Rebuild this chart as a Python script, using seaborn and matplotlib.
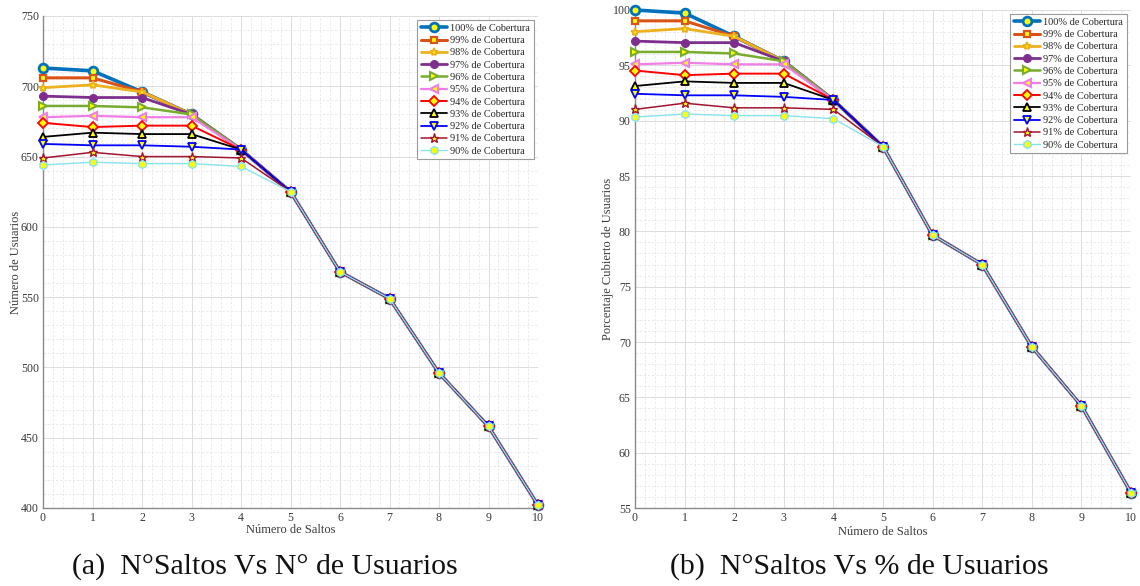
import matplotlib
matplotlib.use("Agg")
import matplotlib.pyplot as plt
import seaborn as sns
from matplotlib.ticker import MultipleLocator

sns.set_theme(style="white")
plt.rcParams['font.family'] = ['Liberation Serif', 'DejaVu Serif']

# ---------------- data ----------------
saltos = [0, 1, 2, 3, 4, 5, 6, 7, 8, 9, 10]
labels = ["100% de Cobertura", "99% de Cobertura", "98% de Cobertura", "97% de Cobertura",
          "96% de Cobertura", "95% de Cobertura", "94% de Cobertura", "93% de Cobertura",
          "92% de Cobertura", "91% de Cobertura", "90% de Cobertura"]

usuarios_100 = [713, 711, 696, 680, 655, 625, 568, 549, 496, 458, 402]
usuarios_99 = [706, 706, 696, 680, 655, 625, 568, 549, 496, 458, 402]
usuarios_98 = [699, 701, 696, 680, 655, 625, 568, 549, 496, 458, 402]
usuarios_97 = [693, 692, 692, 680, 655, 625, 568, 549, 496, 458, 402]
usuarios_96 = [686, 686, 685, 680, 655, 625, 568, 549, 496, 458, 402]
usuarios_95 = [678, 679, 678, 678, 655, 625, 568, 549, 496, 458, 402]
usuarios_94 = [674, 671, 672, 672, 655, 625, 568, 549, 496, 458, 402]
usuarios_93 = [664, 667, 666, 666, 655, 625, 568, 549, 496, 458, 402]
usuarios_92 = [659, 658, 658, 657, 655, 625, 568, 549, 496, 458, 402]
usuarios_91 = [649, 653, 650, 650, 649, 625, 568, 549, 496, 458, 402]
usuarios_90 = [644, 646, 645, 645, 643, 625, 568, 549, 496, 458, 402]

pct_100 = [100.00, 99.72, 97.62, 95.37, 91.87, 87.66, 79.66, 77.00, 69.57, 64.24, 56.38]
pct_99 = [99.02, 99.02, 97.62, 95.37, 91.87, 87.66, 79.66, 77.00, 69.57, 64.24, 56.38]
pct_98 = [98.04, 98.32, 97.62, 95.37, 91.87, 87.66, 79.66, 77.00, 69.57, 64.24, 56.38]
pct_97 = [97.19, 97.05, 97.05, 95.37, 91.87, 87.66, 79.66, 77.00, 69.57, 64.24, 56.38]
pct_96 = [96.21, 96.21, 96.07, 95.37, 91.87, 87.66, 79.66, 77.00, 69.57, 64.24, 56.38]
pct_95 = [95.09, 95.23, 95.09, 95.09, 91.87, 87.66, 79.66, 77.00, 69.57, 64.24, 56.38]
pct_94 = [94.53, 94.11, 94.25, 94.25, 91.87, 87.66, 79.66, 77.00, 69.57, 64.24, 56.38]
pct_93 = [93.13, 93.55, 93.41, 93.41, 91.87, 87.66, 79.66, 77.00, 69.57, 64.24, 56.38]
pct_92 = [92.43, 92.29, 92.29, 92.15, 91.87, 87.66, 79.66, 77.00, 69.57, 64.24, 56.38]
pct_91 = [91.02, 91.58, 91.16, 91.16, 91.02, 87.66, 79.66, 77.00, 69.57, 64.24, 56.38]
pct_90 = [90.32, 90.60, 90.46, 90.46, 90.18, 87.66, 79.66, 77.00, 69.57, 64.24, 56.38]

usuarios = [usuarios_100, usuarios_99, usuarios_98, usuarios_97, usuarios_96, usuarios_95,
            usuarios_94, usuarios_93, usuarios_92, usuarios_91, usuarios_90]
porcentajes = [pct_100, pct_99, pct_98, pct_97, pct_96, pct_95,
               pct_94, pct_93, pct_92, pct_91, pct_90]

left_yticks = [400, 450, 500, 550, 600, 650, 700, 750]
right_yticks = [55, 60, 65, 70, 75, 80, 85, 90, 95, 100]

# ---------------- styles ----------------
colors = ["#0072BD", "#D95319", "#EDB120", "#7E2F8E", "#77AC30", "#F07EE6",
          "#FF0000", "#000000", "#0000FF", "#A2142F", "#86E3F2"]
markers = ["o", "s", "*", "o", ">", "<", "D", "^", "v", "*", "h"]
lws = [2.6, 2.2, 2.0, 2.0, 1.8, 1.6, 1.4, 1.3, 1.3, 1.1, 1.0]
mss = [6.3, 5.0, 6.0, 5.5, 6.3, 6.3, 5.0, 6.0, 6.0, 6.8, 5.8]
mews = [2.0, 1.6, 1.4, 1.0, 1.5, 1.5, 1.3, 1.3, 1.3, 1.0, 1.0]
faces = ["yellow", "yellow", "yellow", "#7E2F8E", "yellow", "yellow",
         "yellow", "yellow", "yellow", "yellow", "yellow"]

fig = plt.figure(figsize=(11.4, 5.86), dpi=100)
ax1 = fig.add_axes([43 / 1140, 1 - 508 / 586, 495 / 1140, 492 / 586])
ax2 = fig.add_axes([635 / 1140, 1 - 508 / 586, 496 / 1140, 498 / 586])

axis_col = "#8a8a8a"
text_col = "#3a3a3a"


def draw(ax, series, ylim, yticks, ymin_step, ylabel, xpad, ypad):
    for i, ys in enumerate(series):
        sns.lineplot(x=saltos, y=ys, ax=ax, color=colors[i], marker=markers[i],
                     lw=lws[i], markersize=mss[i], mfc=faces[i], mec=colors[i],
                     mew=mews[i], label=labels[i], zorder=3 + i * 0.01, clip_on=False)
    ax.set_xlim(0, 10)
    ax.set_ylim(*ylim)
    ax.set_xticks(saltos)
    ax.set_yticks(yticks)
    ax.xaxis.set_minor_locator(MultipleLocator(0.2))
    ax.yaxis.set_minor_locator(MultipleLocator(ymin_step))
    ax.grid(which="major", color="#dcdcdc", lw=0.7, ls="-")
    ax.grid(which="minor", color="#e8e8e8", lw=0.6, ls=(0, (3, 2)))
    ax.set_axisbelow(True)
    for s in ["top", "right"]:
        ax.spines[s].set_visible(False)
    for s in ["left", "bottom"]:
        ax.spines[s].set_color(axis_col)
        ax.spines[s].set_linewidth(1.0)
    ax.tick_params(which="major", direction="in", length=4, width=0.8, color=axis_col,
                   labelsize=8.6, labelcolor=text_col, pad=3)
    ax.tick_params(which="minor", length=0)
    ax.set_xlabel("Número de Saltos", fontsize=9, color=text_col, labelpad=xpad)
    ax.set_ylabel(ylabel, fontsize=9, color=text_col, labelpad=ypad)
    leg = ax.legend(loc="upper right", fontsize=7.4, handlelength=2.6, labelspacing=0.3,
                    borderpad=0.35, handletextpad=0.3, borderaxespad=0.4,
                    fancybox=False, framealpha=1, edgecolor="#9a9a9a")
    leg.get_frame().set_linewidth(0.8)
    leg.set_zorder(10)


draw(ax1, usuarios, (400, 750), left_yticks, 10, "Número de Usuarios", 0, -1)
draw(ax2, porcentajes, (55, 100), right_yticks, 1, "Porcentaje Cubierto de Usuarios", 1, -1)

fig.text(265 / 1140, 1 - 567 / 586, "(a)  N°Saltos Vs N° de Usuarios", ha="center",
         va="center", fontsize=21.5, color="#111111")
fig.text(859 / 1140, 1 - 567 / 586, "(b)  N°Saltos Vs % de Usuarios", ha="center",
         va="center", fontsize=21.5, color="#111111")

fig.savefig("out.png", dpi=100)
